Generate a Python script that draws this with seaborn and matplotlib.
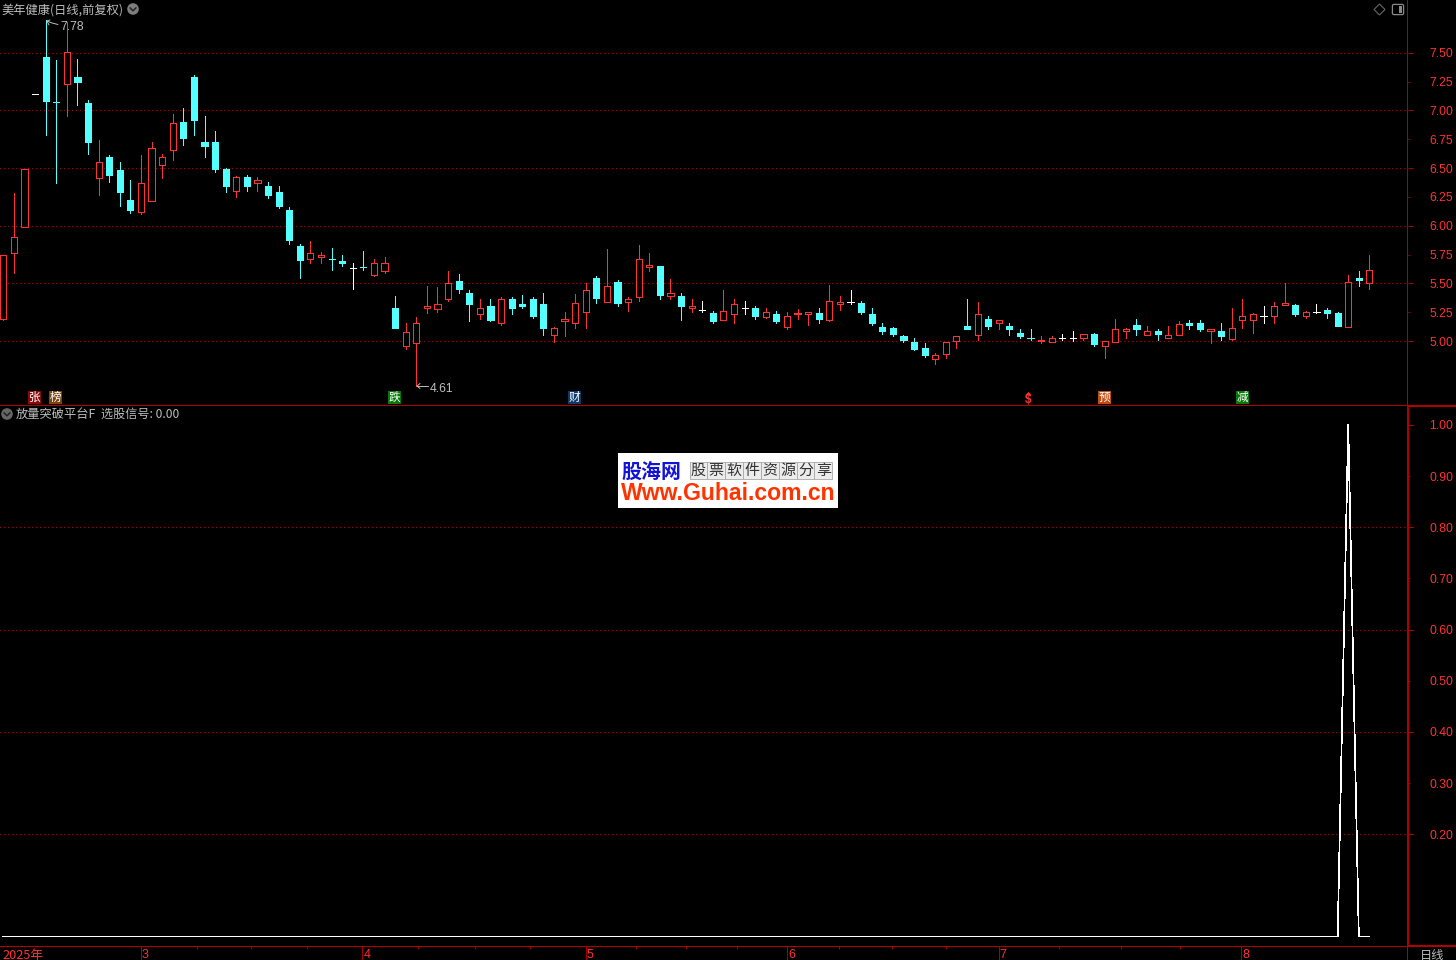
import numpy as np
import pandas as pd
import matplotlib
matplotlib.use("Agg")
import matplotlib.pyplot as plt
from matplotlib.lines import Line2D
from matplotlib.patches import Rectangle, Circle, Polygon, FancyBboxPatch
import seaborn as sns

# ---------- data ----------
opens = [5.19,5.76,5.99,7.14,7.46,7.07,7.23,7.29,7.06,6.41,6.60,6.48,6.22,6.12,6.21,6.53,6.66,6.90,7.29,6.73,
         6.73,6.49,6.30,6.42,6.37,6.34,6.29,6.14,5.82,5.71,5.73,5.71,5.69,5.63,5.64,5.57,5.61,5.29,4.96,4.98,
         5.29,5.28,5.36,5.52,5.42,5.23,5.30,5.16,5.36,5.32,5.36,5.32,5.05,5.17,5.16,5.25,5.55,5.34,5.51,5.34,
         5.38,5.64,5.65,5.39,5.39,5.29,5.27,5.24,5.18,5.23,5.29,5.29,5.21,5.23,5.12,5.23,5.23,5.24,5.18,5.32,
         5.34,5.33,5.23,5.12,5.11,5.04,4.99,4.94,4.84,4.89,5.00,5.13,5.05,5.19,5.16,5.13,5.07,5.03,5.00,4.99,
         5.03,5.03,5.03,5.06,4.96,4.99,5.09,5.14,5.05,5.09,5.03,5.05,5.16,5.16,5.09,5.09,5.02,5.18,5.18,5.22,
         5.22,5.31,5.31,5.22,5.25,5.27,5.24,5.12,5.55,5.50]
closes = [5.75,5.90,6.49,7.14,7.08,7.07,7.51,7.25,6.73,6.55,6.44,6.29,6.14,6.37,6.67,6.60,6.89,6.76,6.92,6.69,
          6.49,6.34,6.42,6.34,6.40,6.27,6.17,5.88,5.70,5.76,5.75,5.71,5.68,5.63,5.64,5.68,5.68,5.11,5.08,5.16,
          5.30,5.32,5.50,5.45,5.32,5.29,5.18,5.36,5.29,5.30,5.22,5.11,5.11,5.19,5.33,5.44,5.37,5.48,5.33,5.36,
          5.71,5.66,5.40,5.42,5.30,5.30,5.27,5.17,5.26,5.32,5.29,5.22,5.25,5.17,5.22,5.24,5.25,5.19,5.35,5.34,
          5.34,5.25,5.16,5.09,5.06,5.01,4.93,4.88,4.88,4.99,5.04,5.10,5.23,5.13,5.18,5.10,5.04,5.03,5.01,5.03,
          5.03,5.03,5.06,4.97,5.00,5.10,5.10,5.10,5.09,5.06,5.05,5.15,5.14,5.10,5.10,5.04,5.11,5.22,5.23,5.22,
          5.30,5.33,5.23,5.25,5.25,5.24,5.13,5.51,5.53,5.62]
highs = [5.75,6.28,6.49,7.14,7.78,7.44,7.77,7.45,7.09,6.74,6.61,6.55,6.40,6.61,6.73,6.62,6.97,7.02,7.31,6.95,
         6.82,6.50,6.43,6.44,6.42,6.38,6.34,6.16,5.84,5.87,5.77,5.81,5.75,5.68,5.78,5.71,5.73,5.39,5.16,5.21,
         5.48,5.47,5.61,5.58,5.44,5.36,5.36,5.38,5.38,5.40,5.38,5.42,5.12,5.25,5.41,5.50,5.56,5.80,5.53,5.38,
         5.83,5.76,5.65,5.54,5.42,5.36,5.35,5.26,5.44,5.36,5.35,5.30,5.29,5.26,5.25,5.28,5.25,5.29,5.49,5.39,
         5.44,5.35,5.29,5.16,5.12,5.05,5.03,4.98,4.90,4.99,5.04,5.36,5.34,5.22,5.18,5.16,5.10,5.10,5.04,5.04,
         5.06,5.09,5.06,5.07,5.00,5.19,5.11,5.19,5.13,5.10,5.13,5.17,5.18,5.18,5.10,5.16,5.29,5.36,5.24,5.30,
         5.34,5.50,5.32,5.26,5.32,5.29,5.25,5.57,5.61,5.75]
lows = [5.18,5.59,5.99,7.14,6.79,6.37,6.95,7.05,6.62,6.27,6.38,6.17,6.11,6.10,6.21,6.41,6.57,6.70,6.79,6.60,
        6.47,6.29,6.25,6.30,6.30,6.24,6.15,5.84,5.55,5.68,5.68,5.62,5.65,5.45,5.62,5.56,5.59,5.11,4.93,4.61,
        5.24,5.25,5.35,5.42,5.17,5.19,5.17,5.14,5.23,5.29,5.20,5.05,4.99,5.04,5.11,5.11,5.33,5.34,5.30,5.26,
        5.35,5.61,5.36,5.36,5.18,5.25,5.25,5.16,5.18,5.16,5.23,5.19,5.20,5.16,5.10,5.19,5.14,5.16,5.17,5.27,
        5.32,5.23,5.14,5.06,5.04,4.99,4.92,4.86,4.80,4.85,4.94,5.10,5.01,5.10,5.10,5.05,5.03,5.01,4.98,4.99,
        5.01,5.00,5.01,4.96,4.85,4.99,5.03,5.05,5.05,5.01,5.03,5.05,5.10,5.09,4.98,5.01,5.01,5.11,5.07,5.16,
        5.16,5.31,5.22,5.20,5.24,5.20,5.13,5.12,5.48,5.45]
white_days = [3, 33, 66, 70, 80, 100, 101, 119, 124]
signal_day = 127
signal_peak = 1.0

price_major = [5.0, 5.5, 6.0, 6.5, 7.0, 7.5]
price_minor = [5.25, 5.75, 6.25, 6.75, 7.25]
signal_major = [0.2, 0.4, 0.6, 0.8, 1.0]
signal_minor = [0.3, 0.5, 0.7, 0.9]
month_days = [13.0, 33.9, 55.0, 74.0, 94.0, 116.9]
month_labels = ["3", "4", "5", "6", "7", "8"]
minor_days = [18.3, 23.4, 28.7, 39.2, 44.5, 49.7, 59.7, 64.5, 69.3, 78.9, 83.9, 89.0, 99.7, 105.5, 111.1]
badges = [("张", 34.5, "#8a0a0a"), ("榜", 55.3, "#7a4410"), ("跌", 394.5, "#067a06"),
          ("财", 574.5, "#0b3a6b"), ("预", 1104.5, "#c04e12"), ("减", 1242.5, "#067a06")]
ad_cells = list("股票软件资源分享")

# ---------- style ----------
RED = "#ff3232"
DARK = "#a80000"
CYAN = "#54ffff"
GREY = "#bdbdbd"
sns.set_theme(style="dark", rc={"figure.facecolor": "black", "axes.facecolor": "black",
                                "savefig.facecolor": "black", "axes.grid": False})
CJK = ["Noto Sans CJK SC", "DejaVu Sans"]
plt.rcParams["font.family"] = CJK
PX = 0.72  # one pixel in points at dpi 100

W, H = 1456, 960
fig = plt.figure(figsize=(W / 100, H / 100), dpi=100)
PANE_W, TOP_END, LOW_END = 1408, 405, 946
ax1 = fig.add_axes([0, 1 - TOP_END / H, PANE_W / W, TOP_END / H])
ax2 = fig.add_axes([0, 1 - LOW_END / H, PANE_W / W, (LOW_END - TOP_END) / H])
ov = fig.add_axes([0, 0, 1, 1], zorder=20)
ov.set_xlim(0, W); ov.set_ylim(H, 0); ov.axis("off"); ov.patch.set_alpha(0)

STEP, X0 = 10.59, 3.3
xlim = (-X0 / STEP, (PANE_W - X0) / STEP)

df = pd.DataFrame({"open": opens, "high": highs, "low": lows, "close": closes})
df["day"] = np.arange(len(df))
df["color"] = np.where(df.close > df.open, RED, CYAN)
df.loc[white_days, "color"] = "white"
df["up"] = df.close > df.open

# ---------- candles ----------
ax1.vlines(df.day, df.low, df.high, colors=df.color, lw=PX, antialiased=False, zorder=3)
ax1.bar(df.day, df.close - df.open, bottom=df.open, width=0.58,
        facecolor=["black" if u else c for u, c in zip(df.up, df.color)],
        edgecolor=df.color, linewidth=PX, antialiased=False, zorder=4)
ax1.set_xlim(*xlim)
ax1.set_ylim(5 - 64 / 115.3, 5 + 341 / 115.3)

# ---------- signal pane ----------
signal = pd.DataFrame({"day": df.day, "signal": [signal_peak if d == signal_day else 0.0 for d in df.day]})
sns.lineplot(data=signal, x="day", y="signal", ax=ax2, color="white", linewidth=PX * 0.75,
             estimator=None, errorbar=None, antialiased=False, zorder=4)
ax2.set_xlim(*xlim)
ax2.set_ylim(-9.5 / 512, 1 + 20 / 512)
ax2.set_xlabel(""); ax2.set_ylabel("")

# ---------- axes ----------
def dress(ax, major, minor):
    sns.despine(ax=ax, left=True, right=True, top=True, bottom=True)
    ax.yaxis.tick_right()
    ax.set_yticks(major, labels=[f"{v:.2f}" for v in major])
    ax.set_yticks(minor, labels=[f"{v:.2f}" for v in minor], minor=True)
    ax.tick_params(axis="y", which="major", length=5 * PX, width=PX, color=DARK, labelcolor=RED,
                   labelsize=8.8, pad=16 * PX, direction="out", right=True, left=False)
    ax.tick_params(axis="y", which="minor", length=2 * PX, width=PX, color=DARK, labelcolor=RED,
                   labelsize=8.8, pad=19 * PX, direction="out", right=True, left=False)
    for lab in ax.get_yticklabels() + ax.get_yticklabels(minor=True):
        lab.set_family(["Liberation Sans"])
    ax.grid(True, axis="y", which="major", color=DARK, linewidth=PX, linestyle=(0, (1, 3)))
    for g in ax.yaxis.get_gridlines():
        g.set_antialiased(False)

dress(ax1, price_major, price_minor)
ax1.set_xticks([])
dress(ax2, signal_major, signal_minor)
ax2.yaxis.get_gridlines()[-1].set_visible(False)
ax2.set_xticks(month_days, labels=[""] * len(month_days))
ax2.set_xticks(minor_days, minor=True)
ax2.tick_params(axis="x", which="major", length=14 * PX, width=PX, color=DARK, direction="out", bottom=True)
ax2.tick_params(axis="x", which="minor", length=3 * PX, width=PX, color=DARK, direction="out", bottom=True)

# frame, as pixel-exact filled strips
def strip(x0, y0, w, h, col="#b00000"):
    ov.add_patch(Rectangle((x0, y0), w, h, facecolor=col, edgecolor="none", antialiased=False))
strip(0, 405, 1408, 1)
strip(0, 946, 1408, 1)
strip(1407, 0, 1, H)
strip(1407, 405, 2, 541)
strip(1407, 405, W - 1407, 2)
strip(1407, 945, W - 1407, 2)

# ---------- text ----------
ov.text(1, 9.8, "美年健康(日线,前复权)", color=GREY, fontsize=8.8, va="center", ha="left", family=CJK)
ov.text(16, 414.5, "放量突破平台F", color=GREY, fontsize=8.8, va="center", ha="left", family=CJK)
ov.text(101, 414.5, "选股信号: 0.00", color=GREY, fontsize=8.7, va="center", ha="left", family=CJK)
ov.text(2, 955, "2025年", color=RED, fontsize=9.2, va="center", ha="left", family=CJK)
ov.text(1420, 955, "日线", color=GREY, fontsize=8.8, va="center", ha="left", family=CJK)
for d, lab in zip(month_days, month_labels):
    ov.text(X0 + STEP * d + 1.0, 955, lab, color=RED, fontsize=9, va="center", ha="left",
            family=["Liberation Sans"])

# chevron buttons
for cx, cy, col in [(133, 9, "#7d7d7d"), (7, 414, "#666666")]:
    ov.add_patch(Circle((cx, cy), 5.8, facecolor=col, edgecolor="none"))
    ov.add_line(Line2D([cx - 3, cx, cx + 3], [cy - 1.2, cy + 1.8, cy - 1.2], color="#222222", lw=1.1))

# window icons
ov.add_patch(Polygon([(1379.5, 4), (1385, 9.5), (1379.5, 15), (1374, 9.5)], closed=True,
                     facecolor="none", edgecolor="#666666", lw=0.8))
ov.add_patch(FancyBboxPatch((1393, 5), 10, 9, boxstyle="round,pad=0.6,rounding_size=1.5",
                            facecolor="none", edgecolor="#8a8a8a", lw=0.9))
ov.add_patch(Rectangle((1399, 6), 3.4, 7, facecolor="#8a8a8a", edgecolor="none"))

# extreme price notes
ov.add_line(Line2D([47, 52, 58], [21, 23, 24.5], color=GREY, lw=0.7))
ov.add_line(Line2D([50, 47, 49], [20, 21, 25], color=GREY, lw=0.7))
ov.text(60, 27, "7.78", color=GREY, fontsize=8.8, va="center", ha="left", family=["Liberation Sans"])
ov.add_line(Line2D([417, 428], [386, 386], color=GREY, lw=0.7))
ov.add_line(Line2D([420, 417, 420], [383.5, 386, 388.5], color=GREY, lw=0.7))
ov.text(430, 389, "4.61", color=GREY, fontsize=8.8, va="center", ha="left", family=["Liberation Sans"])

# event badges
for ch, cx, col in badges:
    ov.add_patch(Rectangle((cx - 6.5, 391), 13, 13, facecolor=col, edgecolor="none"))
    ov.text(cx, 397.6, ch, color="white", fontsize=8.4, va="center", ha="center", family=CJK)
ov.text(1028.5, 400, "$", color=RED, fontsize=8.6, fontweight="bold", va="center", ha="center",
        family=["Liberation Sans"])
ov.add_patch(Polygon([(1025.5, 395), (1031.5, 395), (1028.5, 392)], closed=True, facecolor=RED, edgecolor="none"))

# watermark
ov.add_patch(Rectangle((618, 453), 220, 55, facecolor="white", edgecolor="none"))
ov.text(651.5, 471, "股海网", color="#1212d8", fontsize=14.4, fontweight="bold", va="center", ha="center", family=CJK)
for i, ch in enumerate(ad_cells):
    cx = 689.5 + 17.85 * i
    ov.add_patch(Rectangle((cx, 462), 17.85, 17, facecolor="#ececec", edgecolor="#a8a8a8", lw=0.6))
    ov.text(cx + 8.9, 471, ch, color="#333333", fontsize=10.8, va="center", ha="center", family=CJK)
ov.text(728, 493.5, "Www.Guhai.com.cn", color="#ff3300", fontsize=16.6, fontweight="bold", va="center",
        ha="center", family=["Liberation Sans"])

fig.savefig("out.png", dpi=100, facecolor="black")
